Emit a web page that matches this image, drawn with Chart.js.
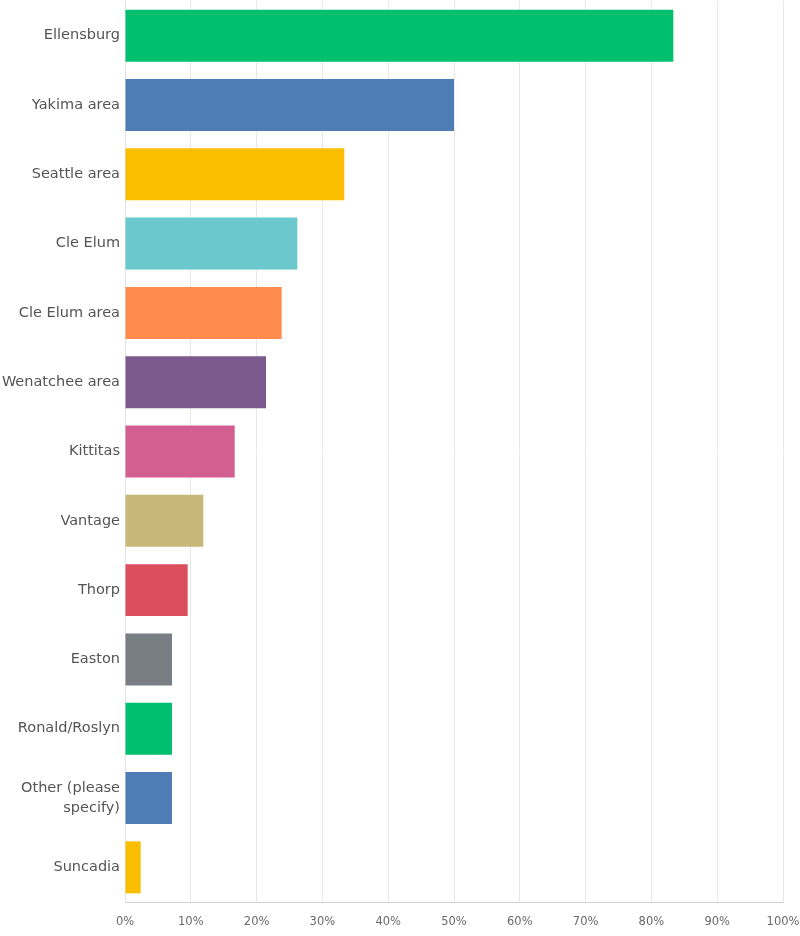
<!DOCTYPE html>
<html>
<head>
<meta charset="utf-8">
<script src="https://cdn.jsdelivr.net/npm/chart.js@4/dist/chart.umd.min.js"></script>
<style>
  html, body { margin: 0; padding: 0; background: #fff; }
  #wrap { width: 800px; height: 936px; position: relative; }
</style>
</head>
<body>
<div id="wrap"><canvas id="c"></canvas></div>
<script>
const categories = ["Ellensburg", "Yakima area", "Seattle area", "Cle Elum", "Cle Elum area", "Wenatchee area", "Kittitas", "Vantage", "Thorp", "Easton", "Ronald/Roslyn", ["Other (please", "specify)"], "Suncadia"];
const values = [83.33, 50.00, 33.33, 26.19, 23.81, 21.43, 16.67, 11.90, 9.52, 7.14, 7.14, 7.14, 2.38];
const barColors = ["#00bf6f", "#507cb6", "#f9be00", "#6bc8cd", "#ff8b4f", "#7d5a8e", "#d25f90", "#c7b879", "#dc4e5c", "#787e84", "#00bf6f", "#507cb6", "#f9be00"];
const xTicks = [0, 10, 20, 30, 40, 50, 60, 70, 80, 90, 100];

new Chart(document.getElementById('c'), {
  type: 'bar',
  data: {
    labels: categories,
    datasets: [{
      data: values,
      backgroundColor: barColors,
      borderWidth: 0,
      categoryPercentage: 1,
      barPercentage: 0.75
    }]
  },
  options: {
    indexAxis: 'y',
    responsive: true,
    maintainAspectRatio: false,
    animation: false,
    layout: { padding: { top: 1, right: 17, bottom: 0, left: 0 } },
    plugins: { legend: { display: false }, tooltip: { enabled: false } },
    scales: {
      x: {
        min: 0, max: 100,
        afterBuildTicks: (s) => { s.ticks = xTicks.map(v => ({ value: v })); },
        afterFit: (s) => { s.height = 34; s.paddingLeft = 0; s.paddingRight = 0; },
        grid: { color: '#e8e8e8', drawTicks: false },
        border: { display: true, color: '#cfd3d6' },
        ticks: {
          padding: 13,
          color: '#6a6a6a',
          font: { family: 'DejaVu Sans', size: 11.5 },
          callback: (v) => v + '%'
        }
      },
      y: {
        afterFit: (s) => { s.width = 125; s.paddingTop = 0; s.paddingBottom = 0; },
        grid: { display: false, drawTicks: false },
        border: { display: true, color: '#e2e2e2' },
        ticks: {
          padding: 5,
          color: '#555555',
          font: { family: 'DejaVu Sans', size: 14.5, lineHeight: 1.4 }
        }
      }
    }
  }
});
</script>
</body>
</html>
